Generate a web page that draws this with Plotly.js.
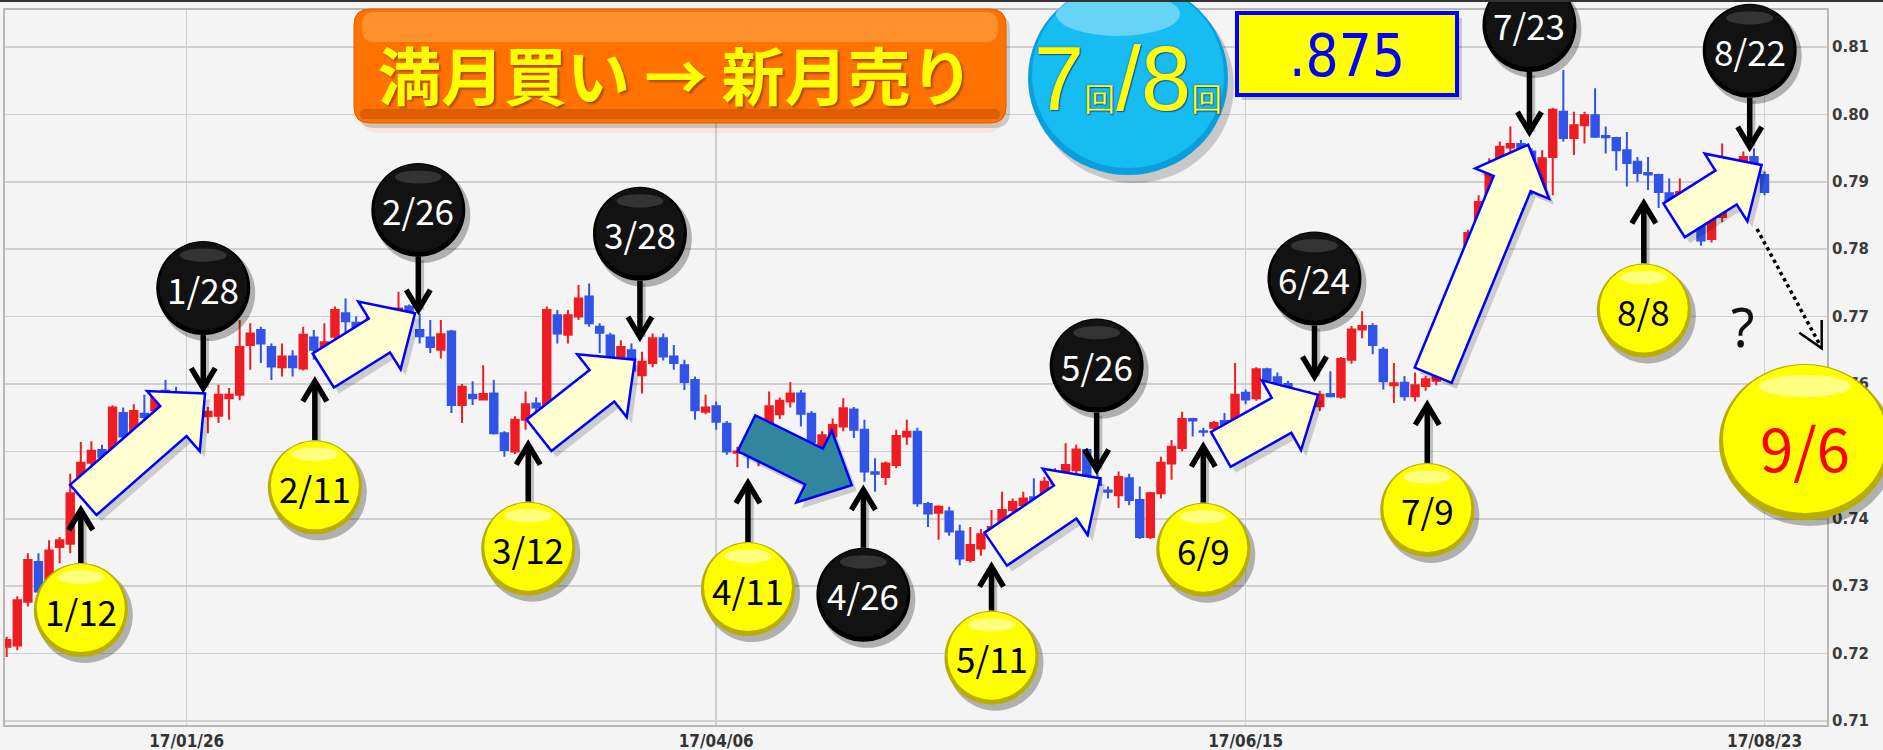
<!DOCTYPE html>
<html>
<head>
<meta charset="utf-8">
<script src="https://cdn.plot.ly/plotly-3.0.1.min.js"></script>
<style>
  html, body { margin: 0; padding: 0; background: #f4f4f4; }
  #chart { width: 1883px; height: 750px; }
</style>
</head>
<body>
<div id="chart"></div>
<script>
// daily candles, 2017-01-03 .. 2017-08-23
var opens = [
  0.7210,0.7212,0.7277,0.7336,0.7306,0.7358,0.7363,0.7438,0.7483,0.7502,
  0.7500,0.7557,0.7522,0.7556,0.7561,0.7590,0.7580,0.7560,0.7570,0.7552,
  0.7553,0.7579,0.7584,0.7658,0.7680,0.7655,0.7625,0.7641,0.7623,0.7669,
  0.7640,0.7670,0.7705,0.7691,0.7678,0.7690,0.7675,0.7700,0.7715,0.7680,
  0.7669,0.7651,0.7678,0.7569,0.7584,0.7577,0.7586,0.7527,0.7500,0.7547,
  0.7571,0.7566,0.7702,0.7673,0.7700,0.7730,0.7685,0.7672,0.7640,0.7650,
  0.7613,0.7631,0.7668,0.7641,0.7628,0.7606,0.7559,0.7567,0.7541,0.7498,
  0.7500,0.7495,0.7500,0.7555,0.7574,0.7586,0.7556,0.7509,0.7522,0.7537,
  0.7562,0.7532,0.7469,0.7462,0.7480,0.7522,0.7529,0.7422,0.7409,0.7411,
  0.7381,0.7339,0.7356,0.7378,0.7393,0.7413,0.7420,0.7432,0.7438,0.7452,
  0.7462,0.7472,0.7502,0.7460,0.7442,0.7435,0.7460,0.7428,0.7373,0.7438,
  0.7482,0.7505,0.7548,0.7530,0.7535,0.7545,0.7547,0.7587,0.7579,0.7622,
  0.7610,0.7600,0.7588,0.7575,0.7567,0.7585,0.7581,0.7636,0.7681,0.7686,
  0.7651,0.7598,0.7602,0.7582,0.7597,0.7605,0.7614,0.7655,0.7690,0.7824,
  0.7873,0.7935,0.7951,0.7956,0.7945,0.7883,0.7937,0.8004,0.7965,0.7984,
  0.7999,0.7968,0.7965,0.7947,0.7930,0.7913,0.7910,0.7883,0.7870,0.7880,
  0.7838,0.7815,0.7848,0.7895,0.7925,0.7937,0.7910
];
var highs = [
  0.7225,0.7285,0.7349,0.7349,0.7368,0.7373,0.7467,0.7514,0.7515,0.7510,
  0.7568,0.7565,0.7570,0.7584,0.7590,0.7606,0.7596,0.7580,0.7575,0.7566,
  0.7599,0.7594,0.7695,0.7690,0.7685,0.7660,0.7660,0.7650,0.7685,0.7680,
  0.7690,0.7715,0.7727,0.7700,0.7700,0.7697,0.7708,0.7737,0.7718,0.7705,
  0.7695,0.7695,0.7680,0.7600,0.7604,0.7628,0.7606,0.7530,0.7552,0.7589,
  0.7580,0.7715,0.7710,0.7710,0.7747,0.7749,0.7690,0.7676,0.7665,0.7660,
  0.7648,0.7675,0.7675,0.7658,0.7636,0.7611,0.7584,0.7574,0.7545,0.7507,
  0.7502,0.7510,0.7589,0.7580,0.7603,0.7591,0.7560,0.7530,0.7549,0.7579,
  0.7566,0.7547,0.7490,0.7485,0.7532,0.7547,0.7535,0.7425,0.7420,0.7418,
  0.7391,0.7388,0.7385,0.7413,0.7440,0.7430,0.7440,0.7460,0.7462,0.7475,
  0.7512,0.7510,0.7505,0.7470,0.7448,0.7470,0.7467,0.7448,0.7440,0.7492,
  0.7517,0.7559,0.7550,0.7535,0.7545,0.7557,0.7631,0.7592,0.7625,0.7624,
  0.7617,0.7605,0.7592,0.7590,0.7590,0.7619,0.7640,0.7686,0.7708,0.7690,
  0.7655,0.7631,0.7612,0.7617,0.7612,0.7620,0.7662,0.7700,0.7829,0.7880,
  0.7935,0.7960,0.7982,0.7962,0.7950,0.7947,0.8010,0.8066,0.8004,0.8004,
  0.8039,0.7982,0.7967,0.7974,0.7937,0.7937,0.7912,0.7905,0.7905,0.7895,
  0.7845,0.7852,0.7957,0.7935,0.7945,0.7950,0.7915
];
var lows = [
  0.7195,0.7205,0.7270,0.7285,0.7300,0.7334,0.7349,0.7430,0.7475,0.7480,
  0.7495,0.7515,0.7510,0.7540,0.7550,0.7565,0.7555,0.7540,0.7530,0.7527,
  0.7542,0.7547,0.7576,0.7621,0.7631,0.7606,0.7611,0.7611,0.7620,0.7636,
  0.7630,0.7660,0.7672,0.7670,0.7670,0.7665,0.7668,0.7690,0.7690,0.7660,
  0.7646,0.7638,0.7557,0.7542,0.7569,0.7576,0.7525,0.7492,0.7496,0.7532,
  0.7550,0.7560,0.7660,0.7660,0.7695,0.7685,0.7646,0.7632,0.7630,0.7610,
  0.7586,0.7625,0.7635,0.7621,0.7591,0.7547,0.7555,0.7532,0.7495,0.7477,
  0.7475,0.7478,0.7495,0.7548,0.7565,0.7537,0.7505,0.7500,0.7515,0.7530,
  0.7520,0.7455,0.7440,0.7450,0.7475,0.7510,0.7418,0.7388,0.7369,0.7375,
  0.7331,0.7335,0.7345,0.7370,0.7385,0.7405,0.7410,0.7418,0.7430,0.7445,
  0.7455,0.7465,0.7455,0.7440,0.7430,0.7416,0.7420,0.7370,0.7370,0.7430,
  0.7458,0.7500,0.7522,0.7522,0.7525,0.7535,0.7540,0.7570,0.7575,0.7590,
  0.7590,0.7575,0.7560,0.7565,0.7560,0.7580,0.7578,0.7630,0.7668,0.7644,
  0.7592,0.7572,0.7575,0.7574,0.7590,0.7598,0.7605,0.7645,0.7685,0.7810,
  0.7865,0.7925,0.7940,0.7935,0.7880,0.7878,0.7880,0.7960,0.7940,0.7957,
  0.7965,0.7942,0.7917,0.7893,0.7900,0.7888,0.7861,0.7866,0.7860,0.7835,
  0.7805,0.7810,0.7840,0.7885,0.7915,0.7920,0.7880
];
var closes = [
  0.7220,0.7279,0.7339,0.7292,0.7353,0.7368,0.7438,0.7483,0.7501,0.7492,
  0.7565,0.7522,0.7560,0.7551,0.7581,0.7575,0.7565,0.7570,0.7545,0.7559,
  0.7584,0.7584,0.7655,0.7675,0.7660,0.7626,0.7641,0.7625,0.7673,0.7651,
  0.7662,0.7710,0.7693,0.7678,0.7690,0.7675,0.7700,0.7712,0.7705,0.7671,
  0.7655,0.7674,0.7569,0.7596,0.7579,0.7585,0.7527,0.7502,0.7547,0.7570,
  0.7565,0.7710,0.7675,0.7702,0.7727,0.7690,0.7676,0.7640,0.7655,0.7620,
  0.7633,0.7668,0.7641,0.7631,0.7603,0.7561,0.7565,0.7544,0.7500,0.7500,
  0.7497,0.7502,0.7567,0.7575,0.7586,0.7556,0.7514,0.7524,0.7539,0.7564,
  0.7532,0.7470,0.7467,0.7482,0.7523,0.7529,0.7423,0.7408,0.7418,0.7381,
  0.7341,0.7361,0.7377,0.7388,0.7413,0.7425,0.7430,0.7425,0.7455,0.7465,
  0.7480,0.7503,0.7462,0.7450,0.7440,0.7462,0.7428,0.7373,0.7438,0.7483,
  0.7507,0.7548,0.7546,0.7529,0.7542,0.7540,0.7584,0.7577,0.7622,0.7606,
  0.7600,0.7590,0.7575,0.7582,0.7584,0.7582,0.7637,0.7681,0.7686,0.7658,
  0.7604,0.7601,0.7582,0.7598,0.7607,0.7614,0.7655,0.7690,0.7824,0.7870,
  0.7915,0.7952,0.7956,0.7947,0.7890,0.7935,0.8007,0.7965,0.7984,0.7999,
  0.7967,0.7966,0.7947,0.7928,0.7913,0.7911,0.7885,0.7873,0.7885,0.7840,
  0.7813,0.7848,0.7895,0.7925,0.7937,0.7927,0.7885
];

var tickDates = ['2017-01-26', '2017-04-06', '2017-06-15', '2017-08-23'];
var tickLabels = ['17/01/26', '17/04/06', '17/06/15', '17/08/23'];
var priceTicks = [0.71, 0.72, 0.73, 0.74, 0.75, 0.76, 0.77, 0.78, 0.79, 0.80, 0.81];
// 0.75 sits under the 9/6 badge and is not readable in the picture
var priceLabels = ['0.71', '0.72', '0.73', '0.74', '', '0.76', '0.77', '0.78', '0.79', '0.80', '0.81'];

// moon dates: bar index and price the arrow points at, gap = px to circle centre
var fullMoons = [
  {label: '1/12', at: 7.0,   price: 0.7413, gap: 100},
  {label: '2/11', at: 29.1,  price: 0.7604, gap: 106},
  {label: '3/12', at: 49.25, price: 0.7510, gap: 104},
  {label: '4/11', at: 70.0,  price: 0.7453, gap: 106},
  {label: '5/11', at: 93.0,  price: 0.7329, gap: 91},
  {label: '6/9',  at: 113.0, price: 0.7507, gap: 103},
  {label: '7/9',  at: 134.15, price: 0.7569, gap: 105},
  {label: '8/8',  at: 154.6, price: 0.7868, gap: 107}
];
var newMoons = [
  {label: '1/28', at: 18.56, price: 0.7594, gap: 100},
  {label: '2/26', at: 38.87, price: 0.7710, gap: 100},
  {label: '3/28', at: 59.8,  price: 0.7670, gap: 103},
  {label: '4/26', at: 80.9,  price: 0.7443, gap: -105},
  {label: '5/26', at: 102.93, price: 0.7473, gap: 104},
  {label: '6/24', at: 123.5, price: 0.7611, gap: 98},
  {label: '7/23', at: 143.8, price: 0.7974, gap: 107},
  {label: '8/22', at: 164.6, price: 0.7952, gap: 96}
];
// full moon -> new moon moves: [bar index, price] from / to
var moves = [
  {from: [7.23, 0.7428],   to: [18.73, 0.7586]},
  {from: [29.9, 0.7620],   to: [38.56, 0.7705]},
  {from: [50.27, 0.7524],  to: [59.33, 0.7636]},
  {from: [69.86, 0.7527],  to: [79.8, 0.7450], miss: true},
  {from: [93.4, 0.7355],   to: [103.24, 0.7460]},
  {from: [114.65, 0.7503], to: [123.85, 0.7584]},
  {from: [134.71, 0.7613], to: [143.68, 0.7955]},
  {from: [157.46, 0.7843], to: [165.72, 0.7925]}
];

function tradingDays(start, n) {
  var out = [], d = new Date(start + 'T00:00:00Z');
  while (out.length < n) {
    var wd = d.getUTCDay();
    if (wd !== 0 && wd !== 6) out.push(d.toISOString().slice(0, 10));
    d.setUTCDate(d.getUTCDate() + 1);
  }
  return out;
}
var dates = tradingDays('2017-01-03', opens.length);

// page geometry
var W = 1883, H = 750;
var M = {l: 5, r: 56, t: 10, b: 25};
var PW = W - M.l - M.r, PH = H - M.t - M.b;
var XR = [-0.16, 171.9];
var YR = [0.7094, 0.8155];
var pxX = PW / (XR[1] - XR[0]), pxY = PH / (YR[1] - YR[0]);
function xp(i) { return (i - XR[0]) / (XR[1] - XR[0]); }
function yp(v) { return (v - YR[0]) / (YR[1] - YR[0]); }
function pageX(x) { return (x - M.l) / PW; }
function pageY(y) { return 1 - (y - M.t) / PH; }

var shapes = [], notes = [];

function ell(ax, ay, dx, dy, rx, ry, fill, line) {
  return {type: 'circle', xref: 'paper', yref: 'paper', xsizemode: 'pixel', ysizemode: 'pixel',
    xanchor: ax, yanchor: ay, x0: dx - rx, x1: dx + rx, y0: dy - ry, y1: dy + ry,
    fillcolor: fill, line: line || {width: 0}, layer: 'above'};
}
function poly(ax, ay, pts, fill, line, open) {
  var d = pts.map(function (p, k) {
    return (k ? 'L' : 'M') + ' ' + p[0].toFixed(1) + ' ' + p[1].toFixed(1);
  }).join(' ') + (open ? '' : ' Z');
  return {type: 'path', xref: 'paper', yref: 'paper', xsizemode: 'pixel', ysizemode: 'pixel',
    xanchor: ax, yanchor: ay, path: d, fillcolor: fill || 'rgba(0,0,0,0)',
    line: line || {width: 0}, layer: 'above'};
}
function roundRect(w, h, r) {
  var x0 = -w / 2, x1 = w / 2, y0 = -h / 2, y1 = h / 2;
  return ['M', x0 + r, y1, 'L', x1 - r, y1, 'Q', x1, y1, x1, y1 - r,
    'L', x1, y0 + r, 'Q', x1, y0, x1 - r, y0,
    'L', x0 + r, y0, 'Q', x0, y0, x0, y0 + r,
    'L', x0, y1 - r, 'Q', x0, y1, x0 + r, y1, 'Z'].join(' ');
}
function rrShape(cx, cy, w, h, r, fill, line) {
  return {type: 'path', xref: 'paper', yref: 'paper', xsizemode: 'pixel', ysizemode: 'pixel',
    xanchor: pageX(cx), yanchor: pageY(cy), path: roundRect(w, h, r),
    fillcolor: fill, line: line || {width: 0}, layer: 'above'};
}
function note(x, y, text, font, extra) {
  var a = {xref: 'paper', yref: 'paper', x: x, y: y, text: text, showarrow: false,
    xanchor: 'center', yanchor: 'middle', font: font};
  for (var k in extra) a[k] = extra[k];
  notes.push(a);
}

// ---- banner, ratio circle, hit rate box ----
var bx = 680, by = 66;
shapes.push(rrShape(bx + 2, by + 22, 640, 90, 16, 'rgba(255,120,40,0.10)'));
shapes.push(rrShape(bx + 4, by + 5, 652, 114, 16, 'rgba(0,0,0,0.16)'));
shapes.push(rrShape(bx, by, 652, 114, 16, '#ff7200', {color: '#dd5e00', width: 1}));
shapes.push(rrShape(bx, 27, 636, 30, 12, 'rgba(255,185,100,0.45)'));
shapes.push(rrShape(bx, 114, 640, 10, 5, 'rgba(160,55,0,0.35)'));
note(pageX(676), pageY(72), '満月買い → 新月売り',
  {family: '"Noto Sans CJK JP", sans-serif', size: 63, weight: 'bold', color: '#ffff00',
   shadow: '2px 2px 2px rgba(110,40,0,0.55)'});

var cx0 = pageX(1128), cy0 = pageY(78);
shapes.push(ell(cx0, cy0, 6, -8, 100, 97, 'rgba(0,0,0,0.18)'));
shapes.push(ell(cx0, cy0, 0, 0, 100, 97, '#0a9fdc'));
shapes.push(ell(cx0, cy0, 0, 3, 96, 93, '#16bcf2'));
shapes.push(ell(cx0, cy0, -10, 64, 62, 22, 'rgba(255,255,255,0.35)'));
note(cx0, pageY(79),
  '7<span style="font-size:32px">回</span>/8<span style="font-size:32px">回</span>',
  {family: '"Liberation Sans", Arial, sans-serif', size: 90, color: '#ffff00',
   shadow: '0 0 2px #1050b0, 1px 1px 1px #1050b0'});

shapes.push({type: 'rect', xref: 'paper', yref: 'paper', x0: pageX(1242), x1: pageX(1462),
  y0: pageY(100), y1: pageY(18), fillcolor: 'rgba(0,0,0,0.18)', line: {width: 0}, layer: 'above'});
shapes.push({type: 'rect', xref: 'paper', yref: 'paper', x0: pageX(1237), x1: pageX(1457),
  y0: pageY(95), y1: pageY(13), fillcolor: '#ffff00', line: {color: '#0000ff', width: 4}, layer: 'above'});
note(pageX(1347), pageY(56), '.875',
  {family: '"Liberation Sans Narrow", "DejaVu Sans Condensed", sans-serif', size: 58, color: '#0000ff'});

// ---- block arrows full moon -> new moon ----
var SHAFT = 20, HEAD = 40, HEADLEN = 42;
moves.forEach(function (a) {
  var dx = (a.to[0] - a.from[0]) * pxX, dy = (a.to[1] - a.from[1]) * pxY;
  var len = Math.hypot(dx, dy), ux = dx / len, uy = dy / len, nx = -uy, ny = ux;
  var b = len - HEADLEN;
  var pts = [
    [nx * SHAFT, ny * SHAFT], [ux * b + nx * SHAFT, uy * b + ny * SHAFT],
    [ux * b + nx * HEAD, uy * b + ny * HEAD], [dx, dy],
    [ux * b - nx * HEAD, uy * b - ny * HEAD], [ux * b - nx * SHAFT, uy * b - ny * SHAFT],
    [-nx * SHAFT, -ny * SHAFT]
  ];
  var ax = xp(a.from[0]), ay = yp(a.from[1]);
  shapes.push(poly(ax, ay, pts.map(function (p) { return [p[0] + 5, p[1] - 6]; }), 'rgba(0,0,0,0.16)'));
  shapes.push(poly(ax, ay, pts, a.miss ? '#31859c' : '#ffffd2', {color: '#0000ff', width: 2.5}));
});

// ---- moon callouts ----
var R = 47;
function callout(c, dark) {
  var ax = xp(c.at), ay = yp(c.price);
  var s = c.gap > 0 ? 1 : -1, g = Math.abs(c.gap), cy = s * g;
  var stroke = {color: '#000', width: 5.5};
  var shade = {color: 'rgba(0,0,0,0.22)', width: 5.5};
  shapes.push(poly(ax, ay, [[3, s * (g - R) - 3], [3, s * 3 - 3]], null, shade, true));
  shapes.push(poly(ax, ay, [[0, s * (g - R)], [0, s * 3]], null, stroke, true));
  shapes.push(poly(ax, ay, [[-12, s * 20], [0, 0], [12, s * 20]], null, stroke, true));
  shapes.push(ell(ax, ay, 4, cy - 5, R + 1, R + 1, 'rgba(0,0,0,0.28)'));
  shapes.push(ell(ax, ay, 0, cy, R, R, dark ? '#000000' : '#b9ae00'));
  shapes.push(ell(ax, ay, 0, cy + 2, R - 3, R - 3, dark ? '#121212' : '#ffff00'));
  shapes.push(ell(ax, ay, 0, cy + R * 0.7, R * 0.5, R * 0.14,
    dark ? 'rgba(255,255,255,0.14)' : 'rgba(255,255,255,0.5)'));
  note(ax, ay, c.label,
    {family: '"Noto Sans CJK JP", sans-serif', size: 35, color: dark ? '#ffffff' : '#000000'},
    {yshift: cy});
}
fullMoons.forEach(function (c) { callout({label: c.label, at: c.at, price: c.price, gap: -c.gap}, false); });
newMoons.forEach(function (c) { callout(c, true); });

// ---- next new moon guess ----
shapes.push({type: 'line', xref: 'paper', yref: 'paper', x0: pageX(1757), y0: pageY(229),
  x1: pageX(1820), y1: pageY(345), line: {color: '#000', width: 3.5, dash: 'dot'}, layer: 'above'});
shapes.push(poly(pageX(1821.7), pageY(348.3), [[-22.4, 15.6], [0, 0], [0, 28.3]], null,
  {color: '#000', width: 2.5}, true));
note(pageX(1742), pageY(326), '?', {family: '"Noto Sans", sans-serif', size: 54, color: '#111'});

var nx0 = pageX(1805), ny0 = pageY(442);
shapes.push(ell(nx0, ny0, 5, -6, 86, 78, 'rgba(0,0,0,0.28)'));
shapes.push(ell(nx0, ny0, 0, 0, 86, 78, '#b9ae00'));
shapes.push(ell(nx0, ny0, 0, 3, 82, 74, '#ffff00'));
shapes.push(ell(nx0, ny0, 0, 56, 46, 11, 'rgba(255,255,255,0.5)'));
note(nx0, pageY(445), '9/6', {family: '"Noto Sans CJK JP", sans-serif', size: 60, color: '#ff0000'});

// top rule of the picture
shapes.push({type: 'line', xref: 'paper', yref: 'paper', x0: pageX(0), x1: pageX(W),
  y0: pageY(1), y1: pageY(1), line: {color: '#333', width: 2}, layer: 'above'});

var trace = {
  type: 'candlestick',
  x: dates, open: opens, high: highs, low: lows, close: closes,
  increasing: {line: {color: '#ee1d23', width: 2}, fillcolor: '#ee1d23'},
  decreasing: {line: {color: '#3153e6', width: 2}, fillcolor: '#3153e6'},
  whiskerwidth: 0,
  hoverinfo: 'skip'
};

var layout = {
  width: W, height: H,
  margin: {l: M.l, r: M.r, t: M.t, b: M.b},
  paper_bgcolor: '#f4f4f4', plot_bgcolor: '#f4f4f4',
  showlegend: false, hovermode: false, dragmode: false,
  boxgap: 0.3, boxgroupgap: 0,
  xaxis: {
    type: 'category', range: XR, tickvals: tickDates, ticktext: tickLabels,
    showgrid: true, gridcolor: '#cfcfcf', gridwidth: 1.5,
    showline: true, mirror: true, linecolor: '#b8b8b8', linewidth: 2,
    ticks: '', fixedrange: true, rangeslider: {visible: false},
    tickfont: {family: '"DejaVu Sans Condensed", "DejaVu Sans", sans-serif', size: 17, weight: 'bold', color: '#333'}
  },
  yaxis: {
    side: 'right', range: YR, tickvals: priceTicks, ticktext: priceLabels,
    showgrid: true, gridcolor: '#cfcfcf', gridwidth: 1.5, zeroline: false,
    showline: true, mirror: true, linecolor: '#b8b8b8', linewidth: 2,
    ticks: '', fixedrange: true,
    tickfont: {family: '"DejaVu Sans", sans-serif', size: 15, weight: 'bold', color: '#3c3c3c'}
  },
  shapes: shapes,
  annotations: notes
};

Plotly.newPlot('chart', [trace], layout, {displayModeBar: false, staticPlot: true});
</script>
</body>
</html>
